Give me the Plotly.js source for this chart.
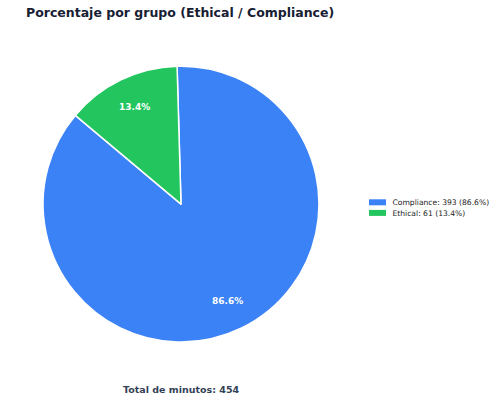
<!DOCTYPE html>
<html>
<head>
<meta charset="utf-8">
<script src="https://cdn.plot.ly/plotly-3.0.1.min.js"></script>
<style>html,body{margin:0;padding:0;background:#fff;}#chart{width:500px;height:401px;}</style>
</head>
<body>
<div id="chart"></div>
<script>
const categories = ["Compliance", "Ethical"];
const minutes = [393, 61];
const colors = ["#3b82f6", "#22c55e"];
const startAngleDeg = 140; // first slice starts here (math angle), slices go counterclockwise
const labelDist = 0.78;

const total = minutes.reduce((a, b) => a + b, 0);
const pct = minutes.map(v => 100 * v / total);
const legendNames = categories.map((c, i) => c + ": " + minutes[i] + " (" + pct[i].toFixed(1) + "%)");

const W = 500, H = 401;
const dom = {x: [0.086, 0.638], y: [0.147, 0.835]};
const cx = (dom.x[0] + dom.x[1]) / 2, cy = (dom.y[0] + dom.y[1]) / 2;
const rPx = (dom.x[1] - dom.x[0]) * W / 2;

const annotations = [];
let acc = startAngleDeg;
pct.forEach((p, i) => {
  const span = p / 100 * 360;
  const mid = (acc + span / 2) * Math.PI / 180;
  acc += span;
  annotations.push({
    x: cx + labelDist * rPx * Math.cos(mid) / W,
    y: cy + labelDist * rPx * Math.sin(mid) / H,
    xref: "paper", yref: "paper", xanchor: "center", yanchor: "middle", showarrow: false,
    text: "<b>" + p.toFixed(1) + "%</b>",
    font: {family: "DejaVu Sans", size: 9, color: "#ffffff"}
  });
});
annotations.push({
  x: cx, y: 1 - 389 / H, xref: "paper", yref: "paper", xanchor: "center", yanchor: "middle", showarrow: false,
  text: "<b>Total de minutos: " + total + "</b>",
  font: {family: "DejaVu Sans", size: 9.5, color: "#334155"}
});

// Plotly places the first slice clockwise of its start; the counterclockwise layout
// starting at startAngleDeg equals a clockwise one starting at startAngleDeg + span(first).
const firstEnd = startAngleDeg + pct[0] / 100 * 360;
let rot = (90 - firstEnd) % 360;
if (rot < -180) rot += 360;
if (rot > 180) rot -= 360;

const trace = {
  type: "pie",
  labels: legendNames,
  values: minutes,
  sort: false,
  direction: "clockwise",
  rotation: rot,
  marker: {colors: colors, line: {color: "#ffffff", width: 1.5}},
  textinfo: "none",
  hoverinfo: "label",
  domain: dom
};

const legendFont = 7.6;
const layout = {
  width: W, height: H,
  margin: {l: 0, r: 0, t: 0, b: 0, autoexpand: false},
  paper_bgcolor: "#ffffff",
  font: {family: "DejaVu Sans", color: "#222222"},
  title: {
    text: "<b>Porcentaje por grupo (Ethical / Compliance)</b>",
    x: 26 / W, xanchor: "left", xref: "paper",
    y: 1 - 13 / H, yanchor: "middle", yref: "paper",
    font: {family: "DejaVu Sans", size: 12.5, color: "#172033"}
  },
  showlegend: true,
  legend: {
    x: 0.72, xanchor: "left", y: 1 - 207 / H, yanchor: "middle",
    bgcolor: "rgba(0,0,0,0)",
    font: {family: "DejaVu Sans", size: legendFont, color: "#222222"}
  },
  annotations: annotations
};

// legend look: flat 17x6 swatches, rows ~10.6 px apart (pixel positions)
const legendSwatchCenterX = 377.5, legendTextX = 392.5, legendRow0 = 202.3, legendRowGap = 10.6;

Plotly.newPlot("chart", [trace], layout, {displayModeBar: false, staticPlot: true}).then(gd => {
  try {
    const lg = gd.querySelector("g.legend");
    lg.setAttribute("transform", "translate(0,0)");
    const sb = lg.querySelector("g.scrollbox");
    if (sb) { sb.removeAttribute("clip-path"); sb.setAttribute("transform", "translate(0,0)"); }
    lg.querySelectorAll("g.groups").forEach(g => g.setAttribute("transform", "translate(0,0)"));
    const bg = lg.querySelector("rect.bg"); if (bg) bg.style.display = "none";
    lg.querySelectorAll("g.traces").forEach((t, i) => {
      t.setAttribute("transform", "translate(0," + (legendRow0 + i * legendRowGap) + ")");
      const p = t.querySelector("path.legendpie");
      if (p) {
        p.setAttribute("d", "M-8.5,3H8.5V-3H-8.5Z");
        p.setAttribute("transform", "translate(" + legendSwatchCenterX + ",0)");
        p.style.strokeWidth = "0";
      }
      const lp = t.querySelector("g.legendpoints"); if (lp) lp.setAttribute("transform", "translate(0,0)");
      const tx = t.querySelector("text.legendtext");
      if (tx) { tx.setAttribute("x", legendTextX); tx.setAttribute("y", (0.36 * legendFont).toFixed(2)); }
      const r = t.querySelector("rect.legendtoggle"); if (r) r.style.display = "none";
    });
  } catch (e) { console.error(e); }
});
</script>
</body>
</html>
